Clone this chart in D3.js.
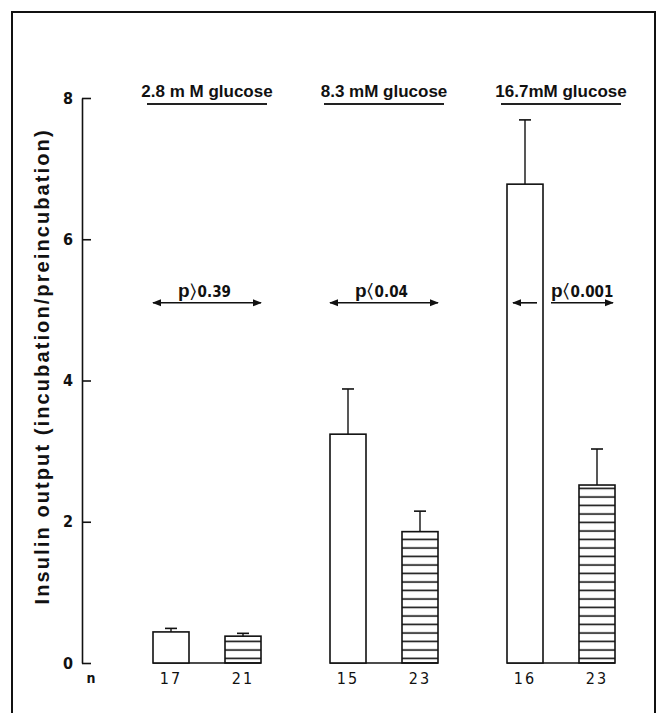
<!DOCTYPE html>
<html>
<head>
<meta charset="utf-8">
<script src="https://cdn.jsdelivr.net/npm/d3@7"></script>
<style>
  body { margin: 0; background: #fff; }
  svg { display: block; }
  .narrow { font-family: 'DejaVu Sans', sans-serif; font-stretch: condensed; }
</style>
</head>
<body>
<svg id="chart"></svg>
<script>
// groups (glucose concentration), two bars per group
const groups = ["2.8 m M glucose", "8.3 mM glucose", "16.7mM glucose"];
const series = ["control", "treated"];
const means = [[0.44, 0.38], [3.24, 1.86], [6.78, 2.52]];
const sems = [[0.05, 0.04], [0.64, 0.29], [0.91, 0.51]];
const nCounts = [["17", "21"], ["15", "23"], ["16", "23"]];
const pLabels = [["p", ">", "0.39"], ["p", "<", "0.04"], ["p", "<", "0.001"]];
const pLevel = 5.1;
const yTicks = [0, 2, 4, 6, 8];

const width = 665;
const height = 713;
const wide = "'Liberation Sans', Arial, sans-serif";

const svg = d3.select("#chart")
    .attr("width", width)
    .attr("height", height);

// hatch pattern for the second bar of each pair
svg.append("defs").append("pattern")
    .attr("id", "hatch")
    .attr("patternUnits", "userSpaceOnUse")
    .attr("width", 10)
    .attr("height", 8.5)
    .append("line")
    .attr("x1", 0).attr("x2", 10)
    .attr("y1", 4).attr("y2", 4)
    .attr("stroke", "#111")
    .attr("stroke-width", 1.6);

// frame
svg.append("rect")
    .attr("x", 12).attr("y", 12)
    .attr("width", 643).attr("height", 720)
    .attr("fill", "none")
    .attr("stroke", "#111")
    .attr("stroke-width", 2);

const y = d3.scaleLinear()
    .domain([0, 8])
    .range([663, 98]);

const gx = d3.scalePoint()
    .domain(groups)
    .range([207, 561]);

const bx = d3.scaleBand()
    .domain(series)
    .range([-54, 54])
    .paddingInner(0.5);

// y axis, ticks pointing right
svg.append("g")
    .attr("transform", "translate(82,0)")
    .call(d3.axisLeft(y).tickValues(yTicks).tickSizeInner(-9).tickSizeOuter(0).tickPadding(9))
    .call(g => g.select(".domain").attr("stroke", "#111").attr("stroke-width", 1.6))
    .call(g => g.selectAll(".tick line").attr("stroke", "#111").attr("stroke-width", 1.6))
    .call(g => g.selectAll(".tick text")
        .attr("class", "narrow")
        .attr("font-weight", "bold")
        .attr("font-size", 16)
        .attr("fill", "#111"));

svg.append("text")
    .attr("transform", `translate(49,${y(4.2)}) rotate(-90)`)
    .attr("text-anchor", "middle")
    .attr("font-family", wide)
    .attr("font-weight", "bold")
    .attr("font-size", 20)
    .attr("letter-spacing", 2.1)
    .attr("fill", "#111")
    .text("Insulin output (incubation/preincubation)");

svg.append("text")
    .attr("class", "narrow")
    .attr("x", 91).attr("y", 683)
    .attr("text-anchor", "middle")
    .attr("font-weight", "bold")
    .attr("font-size", 14)
    .attr("fill", "#111")
    .text("n");

const group = svg.selectAll(".grp")
    .data(groups)
    .join("g")
    .attr("class", "grp")
    .attr("transform", d => `translate(${gx(d)},0)`);

// titles with underline
group.append("text")
    .attr("x", 0).attr("y", 97)
    .attr("text-anchor", "middle")
    .attr("font-family", wide)
    .attr("font-weight", "bold")
    .attr("font-size", 17)
    .attr("fill", "#111")
    .text(d => d);

group.append("line")
    .attr("x1", -60).attr("x2", 60)
    .attr("y1", 104).attr("y2", 104)
    .attr("stroke", "#222")
    .attr("stroke-width", 1.8);

// baseline between the two bars
group.append("line")
    .attr("x1", bx("control")).attr("x2", bx("treated") + bx.bandwidth())
    .attr("y1", y(0)).attr("y2", y(0))
    .attr("stroke", "#111")
    .attr("stroke-width", 1.6);

const bars = group.selectAll(".bar")
    .data((d, i) => series.map((s, j) => ({ s, m: means[i][j], e: sems[i][j], n: nCounts[i][j] })))
    .join("g")
    .attr("class", "bar");

// error bars (upper only)
bars.append("line")
    .attr("x1", d => bx(d.s) + bx.bandwidth() / 2)
    .attr("x2", d => bx(d.s) + bx.bandwidth() / 2)
    .attr("y1", d => y(d.m))
    .attr("y2", d => y(d.m + d.e))
    .attr("stroke", "#111")
    .attr("stroke-width", 1.4);

bars.append("line")
    .attr("x1", d => bx(d.s) + bx.bandwidth() / 2 - 6)
    .attr("x2", d => bx(d.s) + bx.bandwidth() / 2 + 6)
    .attr("y1", d => y(d.m + d.e))
    .attr("y2", d => y(d.m + d.e))
    .attr("stroke", "#111")
    .attr("stroke-width", 1.6);

bars.append("rect")
    .attr("x", d => bx(d.s))
    .attr("y", d => y(d.m))
    .attr("width", bx.bandwidth())
    .attr("height", d => y(0) - y(d.m))
    .attr("fill", d => d.s === "treated" ? "url(#hatch)" : "#fff")
    .attr("stroke", "#111")
    .attr("stroke-width", 1.6);

bars.append("text")
    .attr("class", "narrow")
    .attr("x", d => bx(d.s) + bx.bandwidth() / 2)
    .attr("y", 684)
    .attr("text-anchor", "middle")
    .attr("font-size", 16)
    .attr("letter-spacing", 2)
    .attr("fill", "#111")
    .text(d => d.n);

// p-value arrows
svg.append("defs").append("marker")
    .attr("id", "head")
    .attr("viewBox", "0 0 10 10")
    .attr("refX", 9).attr("refY", 5)
    .attr("markerWidth", 9).attr("markerHeight", 9)
    .attr("markerUnits", "userSpaceOnUse")
    .attr("orient", "auto-start-reverse")
    .append("path")
    .attr("d", "M0,1 L10,5 L0,9 Z")
    .attr("fill", "#111");

const ya = y(pLevel);

group.each(function (d, i) {
    const g = d3.select(this);
    const left = bx("control");
    const right = bx("treated") + bx.bandwidth();
    const segs = i < 2
        ? [[left, right, true]]
        : [[left + bx.bandwidth() - 6, left + 6, false], [left + bx.bandwidth() + 8, right - 2, false]];
    segs.forEach(([a, b, both]) => {
        g.append("line")
            .attr("x1", a).attr("x2", b)
            .attr("y1", ya).attr("y2", ya)
            .attr("stroke", "#111")
            .attr("stroke-width", 1.6)
            .attr("marker-start", both ? "url(#head)" : null)
            .attr("marker-end", "url(#head)");
    });
    const lab = pLabels[i];
    const t = g.append("text")
        .attr("x", i < 2 ? left + 25 : left + bx.bandwidth() + 8)
        .attr("y", ya - 6)
        .attr("fill", "#111");
    t.append("tspan")
        .attr("font-family", wide)
        .attr("font-weight", "bold")
        .attr("font-size", 19)
        .text(lab[0]);
    t.append("tspan")
        .attr("font-family", "'DejaVu Sans', sans-serif")
        .attr("font-size", 19)
        .text(lab[1] === ">" ? "\u232A" : "\u2329");
    t.append("tspan")
        .attr("class", "narrow")
        .attr("dx", 2)
        .attr("font-weight", "bold")
        .attr("font-size", 15)
        .text(lab[2]);
});
</script>
</body>
</html>
